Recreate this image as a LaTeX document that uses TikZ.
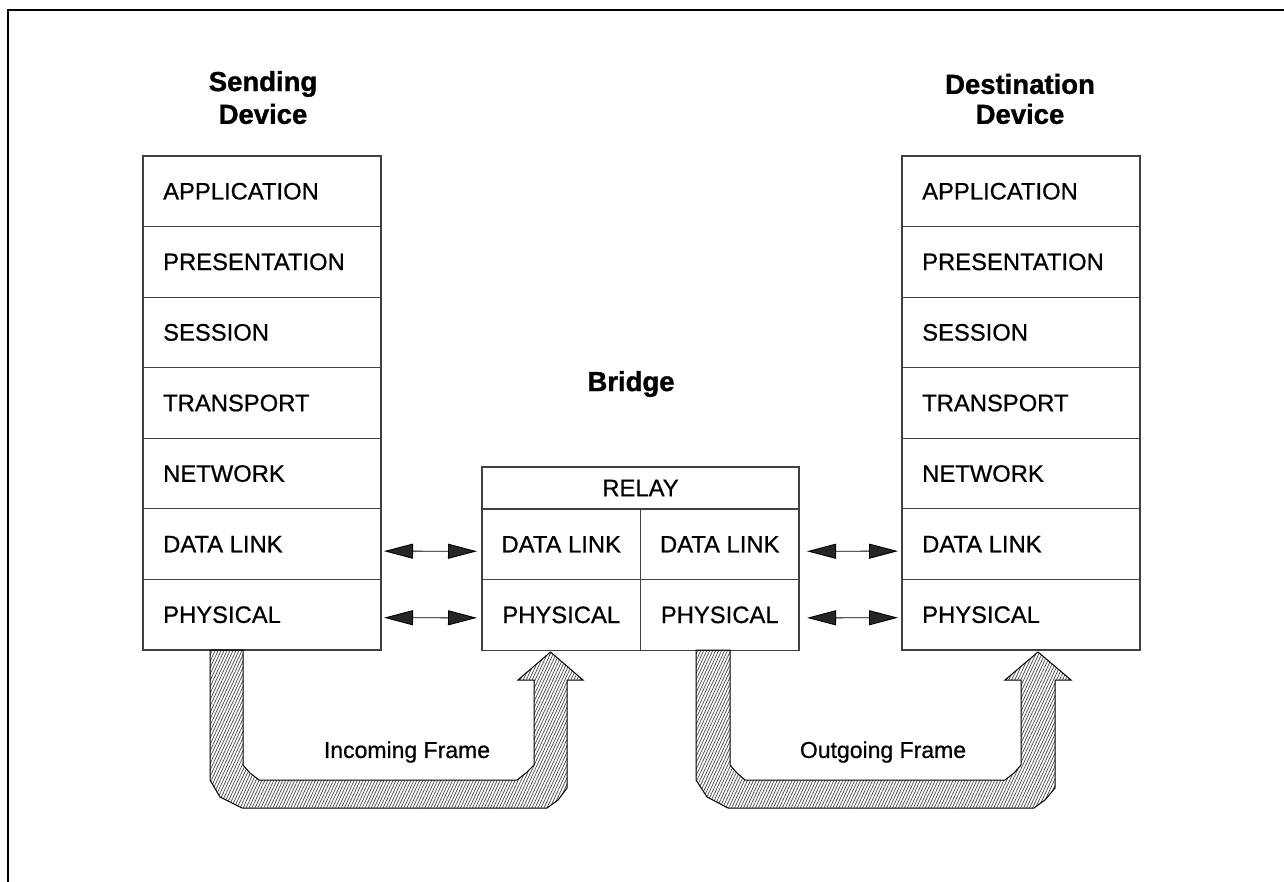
\documentclass[tikz,border=0pt]{standalone}
\usepackage{fontspec}
\setmainfont{Liberation Sans}
\newfontfamily\medfont[FakeBold=0.7]{Liberation Sans}
\newfontfamily\heavyfont[FakeBold=1.2]{Liberation Sans Bold}
\usetikzlibrary{arrows.meta,patterns.meta}
\begin{document}
\begin{tikzpicture}[x=1pt,y=-1pt,
  cell/.style={draw=black!75,line width=1.1pt,rectangle,minimum width=238pt,minimum height=70.57pt,
    anchor=north west,inner sep=0pt,outer sep=0pt},
  lbl/.style={font=\medfont\fontsize{23.8}{26}\selectfont,anchor=west,inner sep=2pt},
  bcell/.style={draw=black!75,line width=1.1pt,rectangle,minimum width=158.5pt,minimum height=70.57pt,
    anchor=north west,inner sep=0pt,outer sep=0pt,font=\medfont\fontsize{23.8}{26}\selectfont},
  ttl/.style={font=\heavyfont\fontsize{27.5}{30}\selectfont},
  dbl/.style={line width=0.9pt,{Triangle[length=29pt,width=15pt,fill=black!85]}-{Triangle[length=29pt,width=15pt,fill=black!85]}},
  band/.style={draw=black,line width=1pt,fill=white,pattern={Lines[angle=65,distance=2.7pt,line width=0.75pt]},pattern color=black!70},
  frm/.style={font=\medfont\fontsize{23}{26}\selectfont}
]
\useasboundingbox (0,0) rectangle (1284,882);
\draw[line width=2.5pt] (8,882) -- (8,10) -- (1284,10);

% titles
\node[ttl] (t1a) at (263,84) {Sending};
\node[ttl] (t1b) at (263,114) {Device};
\node[ttl] (t2a) at (1020,84) {Destination};
\node[ttl] (t2b) at (1020,114) {Device};
\node[ttl] (t3) at (631,384) {Bridge};

% left stack
\foreach \n/\t [count=\i from 0] in {lAP/APPLICATION,lPR/PRESENTATION,lSE/SESSION,lTR/TRANSPORT,lNE/NETWORK,lDL/DATA LINK,lPH/PHYSICAL}{
  \node[cell] (\n) at (143,{156+\i*70.57}) {};
  \node[lbl] at ([xshift=18pt]\n.west) {\t};
}
% right stack
\foreach \n/\t [count=\i from 0] in {rAP/APPLICATION,rPR/PRESENTATION,rSE/SESSION,rTR/TRANSPORT,rNE/NETWORK,rDL/DATA LINK,rPH/PHYSICAL}{
  \node[cell] (\n) at (902,{156+\i*70.57}) {};
  \node[lbl] at ([xshift=18pt]\n.west) {\t};
}

% bridge
\node[draw=black!75,line width=1.1pt,rectangle,minimum width=317pt,minimum height=42pt,anchor=north west,
  inner sep=0pt,outer sep=0pt,font=\medfont\fontsize{23.8}{26}\selectfont] (bRE) at (482,467) {RELAY};
\node[bcell] (bDL1) at (482,509) {DATA LINK};
\node[bcell] (bDL2) at (640.5,509) {DATA LINK};
\node[bcell] (bPH1) at (482,579.57) {PHYSICAL};
\node[bcell] (bPH2) at (640.5,579.57) {PHYSICAL};

% peer arrows
\draw[dbl] ([xshift=3pt,yshift=-7pt]lDL.east) -- ([xshift=-5pt,yshift=-7pt]bDL1.west);
\draw[dbl] ([xshift=3pt,yshift=-3pt]lPH.east) -- ([xshift=-5pt,yshift=-3pt]bPH1.west);
\draw[dbl] ([xshift=8pt,yshift=-7pt]bDL2.east) -- ([xshift=-4pt,yshift=-7pt]rDL.west);
\draw[dbl] ([xshift=8pt,yshift=-3pt]bPH2.east) -- ([xshift=-4pt,yshift=-3pt]rPH.west);

% U-shaped frame arrows
\draw[band] (210,650) -- (210,780) -- (220,797) -- (242,808) -- (547,808) -- (558,800) -- (567,788)
  -- (567,680) -- (583,680) -- (550.5,652) -- (518,680) -- (534,680) -- (534,765) -- (526,773)
  -- (517,780) -- (259,780) -- (250,773) -- (243,765) -- (243,650) -- cycle;
\draw[band] (696,650) -- (696,780) -- (707,797) -- (728,808) -- (1034,808) -- (1045,800) -- (1055,788)
  -- (1055,680) -- (1071,680) -- (1038,652) -- (1005,680) -- (1021,680) -- (1021,765) -- (1014,773)
  -- (1005,780) -- (745,780) -- (737,773) -- (730,765) -- (730,650) -- cycle;

\node[frm] (inc) at (407,752) {Incoming Frame};
\node[frm] (out) at (883,752) {Outgoing Frame};
\end{tikzpicture}
\end{document}
